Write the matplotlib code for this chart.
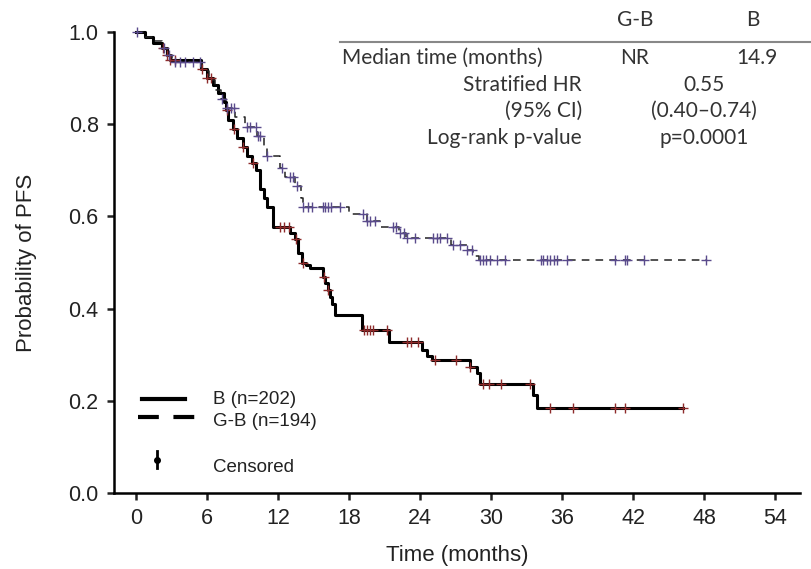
import numpy as np
import matplotlib
matplotlib.use("Agg")
import matplotlib.pyplot as plt
from matplotlib.lines import Line2D

# Kaplan-Meier steps (time in months, survival after step)
b_times = [0.8, 1.4, 2.2, 2.6, 2.9, 5.5, 6.0, 6.5, 6.9, 7.4, 7.6, 7.8, 8.2, 8.5,
           9.0, 9.4, 9.8, 10.1, 10.5, 10.8, 11.1, 11.6, 13.0, 13.4, 13.7, 14.0,
           14.4, 14.7, 15.8, 16.0, 16.2, 16.4, 16.6, 16.8, 19.1, 21.4, 24.2,
           24.6, 25.0, 28.2, 28.8, 29.1, 33.5, 33.9]
b_surv = [0.99, 0.976, 0.965, 0.95, 0.94, 0.92, 0.90, 0.885, 0.868, 0.848, 0.83,
          0.81, 0.79, 0.77, 0.75, 0.73, 0.715, 0.70, 0.66, 0.64, 0.62, 0.578,
          0.565, 0.55, 0.52, 0.50, 0.495, 0.488, 0.469, 0.455, 0.44, 0.425,
          0.41, 0.386, 0.353, 0.328, 0.31, 0.298, 0.288, 0.273, 0.26, 0.237,
          0.213, 0.184]
b_censor = [2.3, 2.6, 2.9, 3.3, 5.6, 6.0, 6.3, 7.7, 8.3, 9.0, 9.9, 12.2, 12.5,
            12.9, 13.5, 14.1, 15.9, 16.2, 19.3, 19.5, 19.8, 20.0, 21.2, 22.9,
            23.2, 23.8, 25.3, 27.0, 28.2, 29.3, 29.8, 30.8, 33.3, 35.0, 36.9,
            40.5, 41.3, 46.2]

gb_times = [0.8, 1.5, 2.2, 2.6, 3.0, 5.6, 6.2, 6.7, 7.2, 7.6, 8.4, 9.2, 10.2,
            10.8, 11.1, 12.2, 12.6, 13.4, 13.9, 14.1, 18.0, 19.5, 20.6, 22.2,
            22.8, 26.6, 28.0, 28.5, 29.0]
gb_surv = [0.99, 0.98, 0.965, 0.95, 0.935, 0.915, 0.895, 0.875, 0.855, 0.835,
           0.815, 0.795, 0.775, 0.75, 0.73, 0.705, 0.685, 0.665, 0.64, 0.62,
           0.606, 0.59, 0.578, 0.565, 0.553, 0.539, 0.527, 0.514, 0.505]
gb_censor = [0.1, 2.4, 2.8, 3.3, 3.7, 4.1, 4.8, 5.4, 7.3, 7.7, 8.0, 8.3, 9.4,
             9.6, 10.1, 10.3, 10.5, 11.1, 12.3, 13.0, 13.3, 13.6, 14.1, 14.5,
             14.9, 15.8, 16.0, 16.2, 16.5, 17.2, 19.2, 19.5, 19.8, 20.2, 21.7,
             22.0, 22.3, 22.6, 22.9, 23.6, 25.1, 25.4, 25.7, 26.3, 26.8, 27.4,
             28.0, 28.4, 29.1, 29.3, 29.6, 29.9, 30.5, 31.2, 34.2, 34.4, 34.7,
             35.0, 35.3, 35.6, 36.4, 40.5, 41.3, 41.5, 42.9, 48.2]

x_ticks = list(range(0, 55, 6))
y_ticks = [0.0, 0.2, 0.4, 0.6, 0.8, 1.0]

table_cols = ["G-B", "B"]
table_labels = ["Stratified HR", "(95% CI)", "Log-rank p-value"]
table_values = ["0.55", "(0.40\u20130.74)", "p=0.0001"]
median_vals = ["NR", "14.9"]

W, H = 812, 569


def px(x, y):
    return x / W, 1 - y / H


def km_curve(times, surv, censor):
    t = np.concatenate([[0.0], times, [max(censor)]])
    s = np.concatenate([[1.0], surv, [surv[-1]]])
    c = np.asarray(censor)
    idx = np.searchsorted(t[:-1], c, side="right") - 1
    return t, s, c, s[idx]


fig = plt.figure(figsize=(W / 100, H / 100), dpi=100)
ax = fig.add_axes([114 / W, 1 - 493 / H, 686 / W, 461 / H])

font = ["Liberation Sans", "DejaVu Sans"]

t, s, c, cs = km_curve(b_times, b_surv, b_censor)
ax.step(t, s, where="post", color="black", lw=2.2, clip_on=False, zorder=3)
ax.plot(c, cs, "+", color="#8e2b2b", ms=7, mew=1, zorder=4, clip_on=False)

t, s, c, cs = km_curve(gb_times, gb_surv, gb_censor)
ax.step(t, s, where="post", color="#222222", lw=1.1, ls=(0, (5, 4)),
        clip_on=False, zorder=3)
ax.plot(c, cs, "+", color="#5a4b8c", ms=7, mew=1, zorder=4, clip_on=False)

ax.set_xlim(-1.86, 56.1)
ax.set_ylim(0, 1.0)
ax.set_xticks(x_ticks)
ax.set_yticks(y_ticks)
ax.set_yticklabels([f"{v:.1f}" for v in y_ticks])
for sp in ["top", "right"]:
    ax.spines[sp].set_visible(False)
for sp in ["left", "bottom"]:
    ax.spines[sp].set_linewidth(1.8)
ax.tick_params(width=1.8, length=5, labelsize=15.5, pad=6, colors="#222222")
for lab in ax.get_xticklabels() + ax.get_yticklabels():
    lab.set_family(font)
ax.set_xlabel("Time (months)", fontsize=16, family=font, labelpad=11, color="#222222")
ax.set_ylabel("Probability of PFS", fontsize=16, family=font, labelpad=23, color="#222222")

# legend drawn by hand
x0, y0 = px(142, 399)
x1, _ = px(185, 399)
fig.add_artist(Line2D([x0, x1], [y0, y0], color="black", lw=3, transform=fig.transFigure))
x0, y0 = px(138, 417)
x1, _ = px(200, 417)
fig.add_artist(Line2D([x0, x1], [y0, y0], color="black", lw=3, ls=(0, (5, 3.5)),
                      transform=fig.transFigure))
xc, ya = px(157, 451)
_, yb = px(157, 468)
fig.add_artist(Line2D([xc, xc], [ya, yb], color="black", lw=2, transform=fig.transFigure))
_, ym = px(157, 460)
fig.add_artist(Line2D([xc], [ym], marker="o", ms=4, color="black", transform=fig.transFigure))
for txt, yy in [("B (n=202)", 400), ("G-B (n=194)", 421), ("Censored", 467)]:
    fig.text(*px(213, yy), txt, fontsize=13.5, family=font, va="center", ha="left",
             color="#222222")

# summary table in the top right
tfont = ["Lato", "DejaVu Sans"]
tcol = "#333333"
fs = 15
for name, xx in zip(table_cols, [635, 753]):
    fig.text(*px(xx, 20), name, fontsize=fs, family=tfont, color=tcol, ha="center", va="center")
xa, yl = px(340, 42)
xb, _ = px(812, 42)
fig.add_artist(Line2D([xa, xb], [yl, yl], color="#888888", lw=1.5, transform=fig.transFigure))
fig.text(*px(342, 58), "Median time (months)", fontsize=fs, family=tfont, color=tcol,
         ha="left", va="center")
for val, xx in zip(median_vals, [635, 757]):
    fig.text(*px(xx, 58), val, fontsize=fs, family=tfont, color=tcol, ha="center", va="center")
for lab, val, yy in zip(table_labels, table_values, [85, 111, 138]):
    fig.text(*px(582, yy), lab, fontsize=fs, family=tfont, color=tcol, ha="right", va="center")
    fig.text(*px(704, yy), val, fontsize=fs, family=tfont, color=tcol, ha="center", va="center")

fig.savefig("out.png", dpi=100)
